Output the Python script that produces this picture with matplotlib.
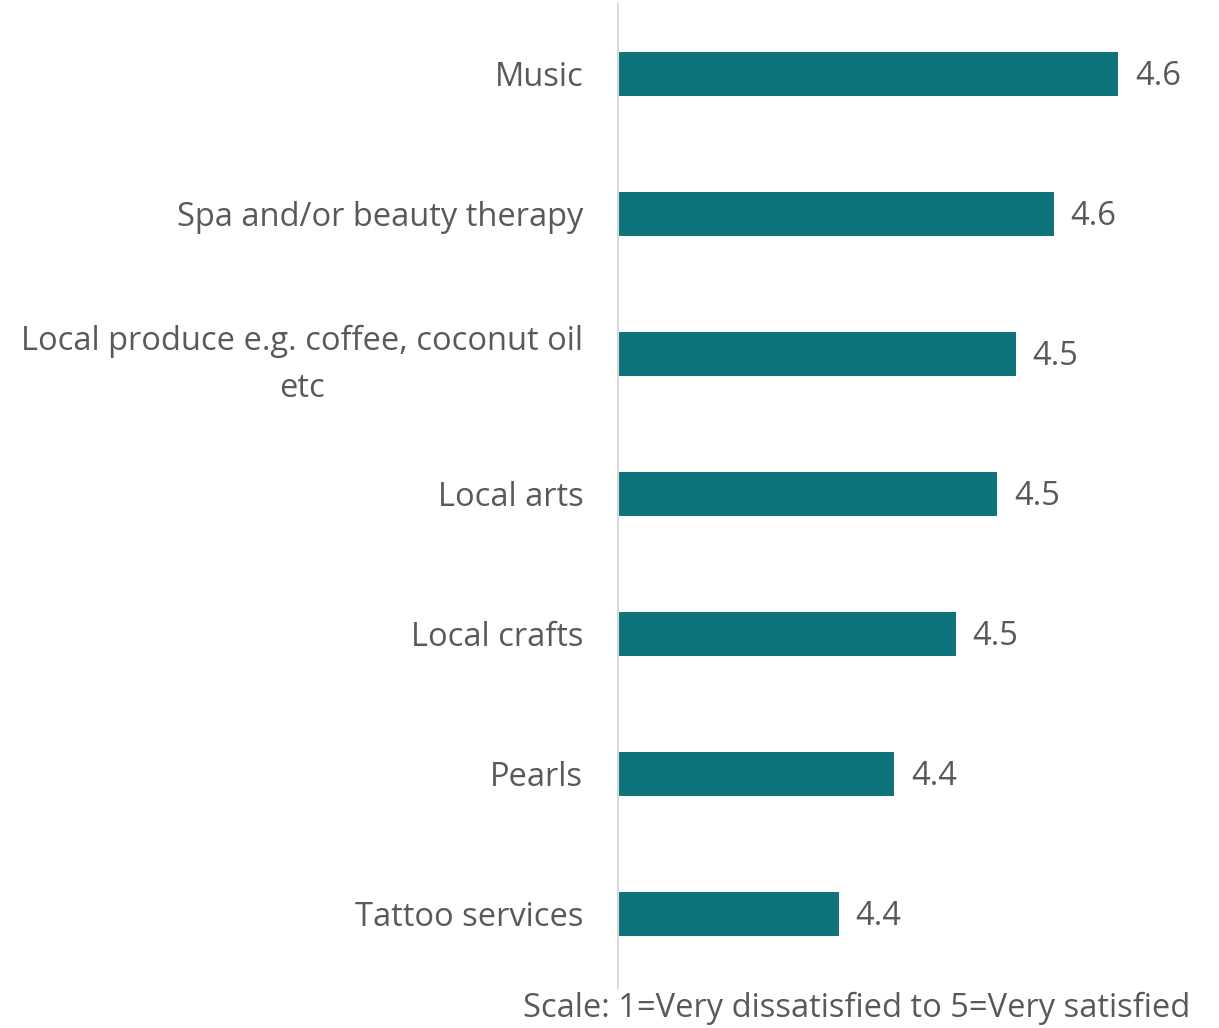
import matplotlib.pyplot as plt
import matplotlib.transforms as mtransforms

categories = [
    "Music",
    "Spa and/or beauty therapy",
    "Local produce e.g. coffee, coconut oil\netc",
    "Local arts",
    "Local crafts",
    "Pearls",
    "Tattoo services",
]
satisfaction = [4.63, 4.568, 4.532, 4.514, 4.474, 4.415, 4.362]
footnote = "Scale: 1=Very dissatisfied to 5=Very satisfied"

bar_color = "#0E737A"
text_color = "#595959"
fs = 23.5

plt.rcParams["font.family"] = ["Open Sans", "DejaVu Sans"]

fig = plt.figure(figsize=(12.19, 10.28), dpi=100)
ax = fig.add_axes([618 / 1219, 1 - 988 / 1028, 572 / 1219, 984 / 1028])

y = list(range(len(categories)))
ax.barh(y, satisfaction, left=0, height=0.314, color=bar_color, zorder=2)
ax.set_xlim(4.15, 4.699)
ax.set_ylim(len(categories) - 0.5 + 0.03, -0.5)

for yi, v in zip(y, satisfaction):
    ax.text(v + 0.016, yi + 0.02, f"{v:.1f}", va="center", ha="left",
            fontsize=fs, color=text_color)

ax.set_yticks(y)
ax.set_yticklabels(categories, fontsize=fs, color=text_color, linespacing=1.55,
                   multialignment="center")
# nudge the two-line label up a little so its block sits centred on the bar
for lbl in ax.get_yticklabels():
    if "\n" in lbl.get_text():
        lbl.set_transform(lbl.get_transform() +
                          mtransforms.ScaledTranslation(0, 6 / 72, fig.dpi_scale_trans))
ax.tick_params(axis="y", length=0, pad=25)
ax.set_xticks([])

for side in ["top", "right", "bottom"]:
    ax.spines[side].set_visible(False)
ax.spines["left"].set_color("#D9D9D9")
ax.spines["left"].set_linewidth(1.5)

fig.text(1190 / 1219, 1 - 1008 / 1028, footnote, ha="right", va="center",
         fontsize=fs, color=text_color)

fig.savefig("out.png", dpi=100)
